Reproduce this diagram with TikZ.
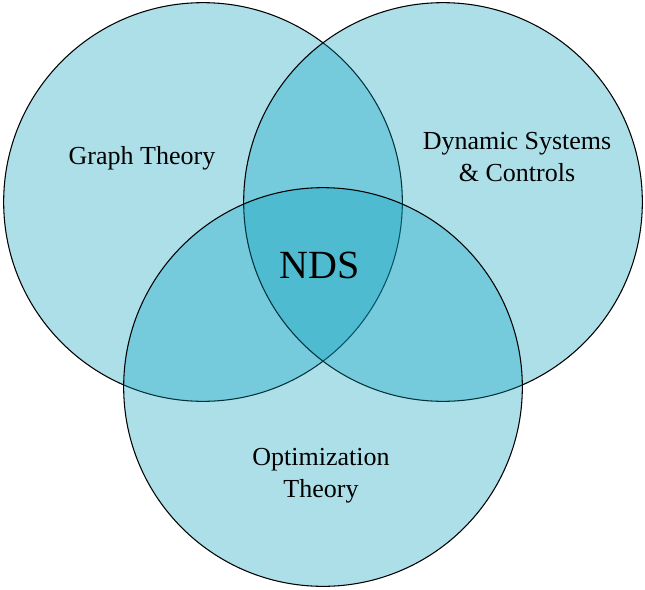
\documentclass[tikz,border=0pt]{standalone}
\usepackage{fontspec}
\setmainfont{Liberation Serif}
\usepackage{tikz}

\definecolor{setblue}{RGB}{0,157,188}

\begin{document}
\begin{tikzpicture}[x=0.75pt, y=-0.75pt,
        field/.style={circle, draw=black, line width=0.8pt, fill=setblue, fill opacity=0.32, minimum size=299pt, inner sep=0pt},
        label/.style={align=center, font=\fontsize{19.5}{24}\selectfont}]
        \useasboundingbox (0,0) rectangle (645,589);

        % Define the sets
        \node[field] (graph) at (203,202) {};
        \node[field] (dynamic) at (443,202) {};
        \node[field] (optim) at (323,387) {};

        % Define the labels
        \node[label, anchor=base] (graphlabel) at (142,164) {Graph Theory};
        \node[label] (dynamiclabel) at (517,157) {Dynamic Systems\\\& Controls};
        \node[label] (optimlabel) at (321,476) {Optimization\\Theory};
        \node[anchor=base, font=\fontsize{30}{36}\selectfont] (nds) at (320,278) {NDS};

    \end{tikzpicture}
\end{document}
